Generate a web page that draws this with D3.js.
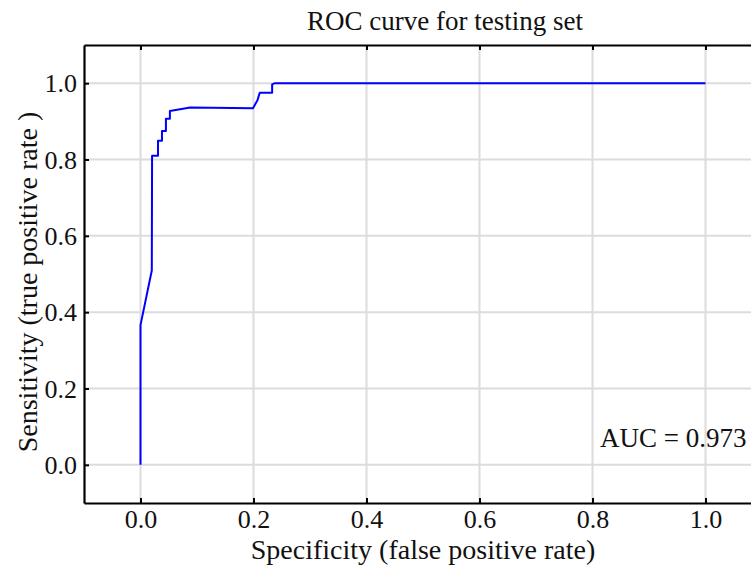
<!DOCTYPE html>
<html>
<head>
<meta charset="utf-8">
<script src="https://cdn.jsdelivr.net/npm/d3@7"></script>
<style>
  html, body { margin: 0; padding: 0; background: #fff; }
  svg { display: block; }
  text { font-family: "Liberation Serif", "DejaVu Serif", serif; fill: #111; }
</style>
</head>
<body>
<svg id="chart" width="751" height="574"></svg>
<script>
// ---- data ----
const fpr = [0, 0, 0.02, 0.0205, 0.031, 0.031, 0.038, 0.038, 0.045, 0.045, 0.052, 0.052, 0.088, 0.199, 0.203, 0.207, 0.211, 0.233, 0.233, 0.238, 1.0];
const tpr = [0, 0.366, 0.509, 0.81, 0.81, 0.849, 0.849, 0.875, 0.875, 0.907, 0.907, 0.927, 0.936, 0.934, 0.945, 0.955, 0.975, 0.975, 0.997, 1.0, 1.0];
const tickValues = [0, 0.2, 0.4, 0.6, 0.8, 1.0];
const titleText = "ROC curve for testing set";
const xLabel = "Specificity (false positive rate)";
const yLabel = "Sensitivity (true positive rate )";
const aucText = "AUC = 0.973";

// ---- layout ----
const svg = d3.select("#chart");
const pLeft = 84, pTop = 45, pBottom = 503, pRight = 762;
const x = d3.scaleLinear().domain([-0.1, 1.1]).range([pLeft, pRight]);
const y = d3.scaleLinear().domain([-0.1, 1.1]).range([pBottom, pTop]);

// gridlines
const grid = svg.append("g");
grid.selectAll(".gx").data(tickValues).join("line")
  .attr("x1", d => x(d)).attr("x2", d => x(d))
  .attr("y1", pTop).attr("y2", pBottom)
  .attr("stroke", "#dcdcdc").attr("stroke-width", 2);
grid.selectAll(".gy").data(tickValues).join("line")
  .attr("y1", d => y(d)).attr("y2", d => y(d))
  .attr("x1", pLeft).attr("x2", pRight)
  .attr("stroke", "#dcdcdc").attr("stroke-width", 2);

// curve
const pts = fpr.map((v, i) => [v, tpr[i]]);
svg.append("path")
  .datum(pts)
  .attr("d", d3.line().x(d => x(d[0])).y(d => y(d[1])))
  .attr("fill", "none")
  .attr("stroke", "#0000ff")
  .attr("stroke-width", 2)
  .attr("stroke-linejoin", "round");

// axes (ticks inward)
const fmt = d3.format(".1f");
const xAxisB = svg.append("g").attr("transform", `translate(0,${pBottom})`)
  .call(d3.axisBottom(x).tickValues(tickValues).tickFormat(fmt).tickSizeInner(-5).tickSizeOuter(0).tickPadding(12));
const xAxisT = svg.append("g").attr("transform", `translate(0,${pTop})`)
  .call(d3.axisTop(x).tickValues(tickValues).tickFormat("").tickSizeInner(-5).tickSizeOuter(0));
const yAxisL = svg.append("g").attr("transform", `translate(${pLeft},0)`)
  .call(d3.axisLeft(y).tickValues(tickValues).tickFormat(fmt).tickSizeInner(-5).tickSizeOuter(0).tickPadding(7));
const yAxisR = svg.append("g").attr("transform", `translate(${pRight},0)`)
  .call(d3.axisRight(y).tickValues(tickValues).tickFormat("").tickSizeInner(-5).tickSizeOuter(0));

[xAxisB, xAxisT, yAxisL, yAxisR].forEach(g => {
  g.select(".domain").attr("stroke", "#000").attr("stroke-width", 2.2);
  g.selectAll(".tick line").attr("stroke", "#000").attr("stroke-width", 2);
  g.selectAll(".tick text")
    .attr("font-family", '"Liberation Serif", serif')
    .attr("font-size", 26).attr("fill", "#111");
});
xAxisB.selectAll(".tick text").attr("y", 25).attr("dy", 0);
yAxisL.selectAll(".tick text").attr("dy", "0.33em");

// title
svg.append("text")
  .attr("x", 445).attr("y", 30)
  .attr("text-anchor", "middle")
  .attr("font-size", 27)
  .text(titleText);

// x label
svg.append("text")
  .attr("x", 423).attr("y", 559)
  .attr("text-anchor", "middle")
  .attr("font-size", 28)
  .text(xLabel);

// y label
svg.append("text")
  .attr("transform", "translate(37,282) rotate(-90)")
  .attr("text-anchor", "middle")
  .attr("font-size", 28)
  .text(yLabel);

// AUC annotation
svg.append("text")
  .attr("x", 600).attr("y", 447)
  .attr("font-size", 27)
  .text(aucText);
</script>
</body>
</html>
